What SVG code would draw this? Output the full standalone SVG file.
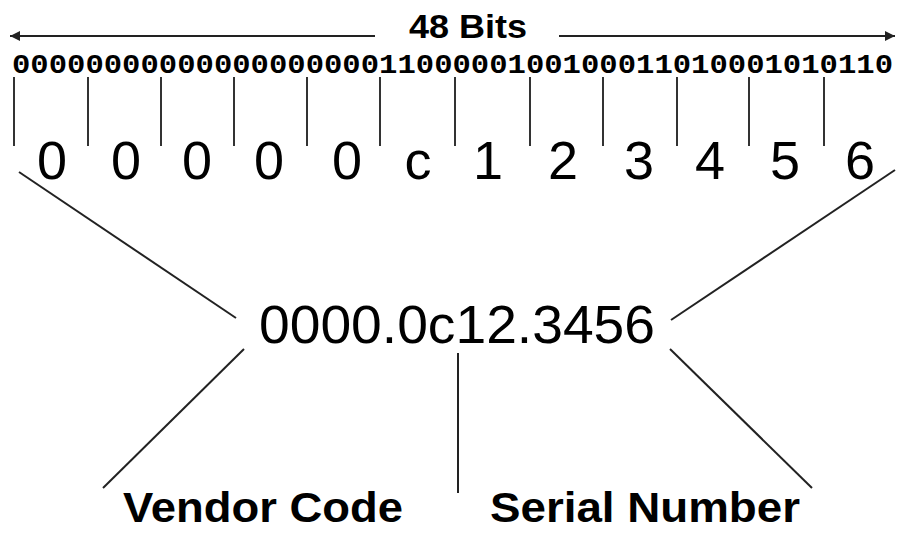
<svg xmlns="http://www.w3.org/2000/svg" width="897" height="533" viewBox="0 0 897 533">
  <style>
    .ln { stroke: #222; stroke-width: 2; fill: none; }
    .tick { stroke: #333; stroke-width: 2; }
    .bold { font-family: "Liberation Sans", Arial, sans-serif; font-weight: bold; fill: #000; }
    .reg { font-family: "Liberation Sans", Arial, sans-serif; fill: #000; }
    .mono { font-family: "Liberation Mono", "Courier New", monospace; font-weight: bold; fill: #000; }
  </style>
  <defs>
    <marker id="arr" viewBox="0 0 10 10" refX="10" refY="5" markerWidth="5" markerHeight="5" orient="auto" markerUnits="strokeWidth">
      <path d="M0,0 L10,5 L0,10 z" fill="#222"/>
    </marker>
  </defs>
  <rect width="897" height="533" fill="#fff"/>

  <g id="header">
    <line class="ln" x1="375" y1="36" x2="10" y2="36" marker-end="url(#arr)"/>
    <line class="ln" x1="559" y1="36" x2="895" y2="36" marker-end="url(#arr)"/>
    <text class="bold" x="468" y="38" font-size="34" text-anchor="middle" textLength="118" lengthAdjust="spacingAndGlyphs">48 Bits</text>
  </g>

  <g id="bits">
    <text class="mono" x="12" y="73" font-size="27" textLength="881" lengthAdjust="spacingAndGlyphs">000000000000000000001100000100100011010001010110</text>
  </g>

  <g id="ticks">
    <line class="tick" x1="14" y1="77" x2="14" y2="146"/>
    <line class="tick" x1="88" y1="77" x2="88" y2="146"/>
    <line class="tick" x1="161" y1="77" x2="161" y2="146"/>
    <line class="tick" x1="234" y1="77" x2="234" y2="146"/>
    <line class="tick" x1="307" y1="77" x2="307" y2="146"/>
    <line class="tick" x1="380" y1="77" x2="380" y2="146"/>
    <line class="tick" x1="455" y1="77" x2="455" y2="146"/>
    <line class="tick" x1="530" y1="77" x2="530" y2="146"/>
    <line class="tick" x1="603" y1="77" x2="603" y2="146"/>
    <line class="tick" x1="677" y1="77" x2="677" y2="146"/>
    <line class="tick" x1="749" y1="77" x2="749" y2="146"/>
    <line class="tick" x1="824" y1="77" x2="824" y2="146"/>
  </g>

  <g id="hex" class="reg" font-size="54" text-anchor="middle">
    <text x="52" y="179">0</text>
    <text x="126" y="179">0</text>
    <text x="197" y="179">0</text>
    <text x="269" y="179">0</text>
    <text x="347" y="179">0</text>
    <text x="418" y="179">c</text>
    <text x="488" y="179">1</text>
    <text x="563" y="179">2</text>
    <text x="639" y="179">3</text>
    <text x="710" y="179">4</text>
    <text x="785" y="179">5</text>
    <text x="860" y="179">6</text>
  </g>

  <g id="mac">
    <text class="reg" x="259" y="343" font-size="53" textLength="396" lengthAdjust="spacingAndGlyphs">0000.0c12.3456</text>
  </g>

  <g id="vendor">
    <text class="bold" x="123" y="522" font-size="42" textLength="280" lengthAdjust="spacingAndGlyphs">Vendor Code</text>
  </g>

  <g id="serial">
    <text class="bold" x="490" y="522" font-size="42" textLength="310" lengthAdjust="spacingAndGlyphs">Serial Number</text>
  </g>

  <g id="connectors">
    <line class="ln" x1="19" y1="172" x2="236" y2="318"/>
    <line class="ln" x1="895" y1="170" x2="671" y2="320"/>
    <line class="ln" x1="244" y1="349" x2="103" y2="488"/>
    <line class="ln" x1="458" y1="353" x2="458" y2="493"/>
    <line class="ln" x1="670" y1="349" x2="812" y2="488"/>
  </g>
</svg>
